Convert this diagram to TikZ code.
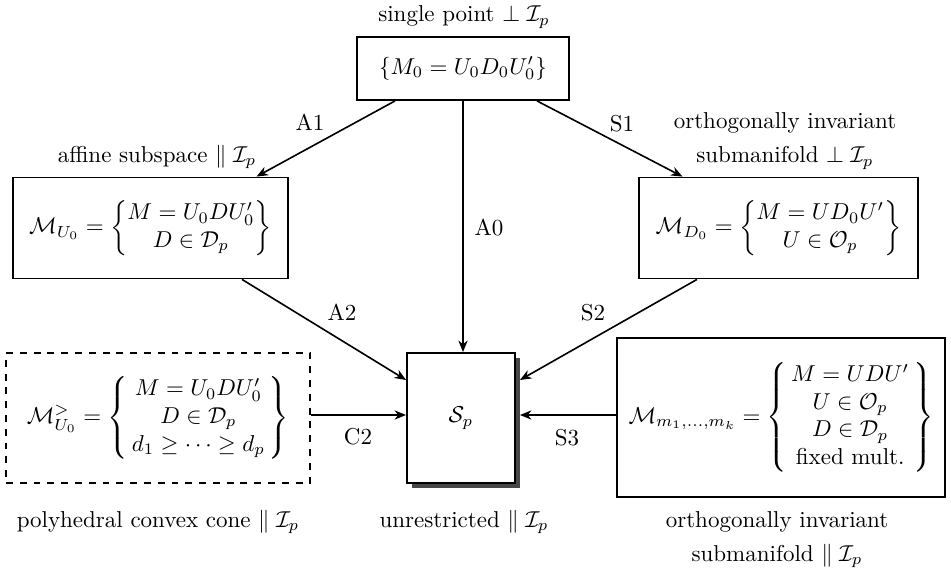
\documentclass[tikz,border=0pt]{standalone}
\usepackage{amsmath}
\usetikzlibrary{arrows.meta,shadows}
\def\pxu{0.435pt}
\begin{document}
\begin{tikzpicture}[x=0.435pt,y=-0.435pt,
  box/.style={draw,line width=0.8pt,fill=white,inner sep=0pt,align=center},
  arr/.style={line width=0.7pt,-{Stealth[length=5pt,width=4pt,inset=1.6pt]}},
  lab/.style={inner sep=1pt}]
\useasboundingbox (0,0) rectangle (951,569);
% nodes
\node[box,minimum width=212*\pxu,minimum height=63*\pxu] (top) at (463,68.5) {$\{M_0 = U_0 D_0 U_0'\}$};
\node[box,minimum width=275*\pxu,minimum height=101*\pxu] (left) at (150.5,228)
  {$\mathcal{M}_{U_0} = \left\{\begin{matrix} M = U_0 D U_0' \\ D \in \mathcal{D}_p \end{matrix}\right\}$};
\node[box,minimum width=279*\pxu,minimum height=101*\pxu] (right) at (778.5,228)
  {$\mathcal{M}_{D_0} = \left\{\begin{matrix} M = U D_0 U' \\ U \in \mathcal{O}_p \end{matrix}\right\}$};
\node[box,dashed,minimum width=304*\pxu,minimum height=130*\pxu] (cone) at (158,418)
  {$\mathcal{M}^{>}_{U_0} = \left\{\,\begin{matrix} M = U_0 D U_0' \\ D \in \mathcal{D}_p \\ d_1 \geq \cdots \geq d_p \end{matrix}\,\right\}$};
\node[box,minimum width=328*\pxu,minimum height=159*\pxu] (mult) at (781,417.5)
  {$\mathcal{M}_{m_1,\ldots,m_k} = \left\{\,\begin{matrix} M = U D U' \\ U \in \mathcal{O}_p \\ D \in \mathcal{D}_p \\ \text{fixed mult.} \end{matrix}\,\right\}$};
\node[box,minimum width=108*\pxu,minimum height=130*\pxu,
  drop shadow={shadow xshift=4.5*\pxu,shadow yshift=-4.5*\pxu,opacity=1,fill=black!72}] (sp) at (461,418) {$\mathcal{S}_p$};
% captions
\node (t1) at (464,17) {single point $\perp \mathcal{I}_p$};
\node (t2) at (157,157) {affine subspace $\parallel \mathcal{I}_p$};
\node (t3) at (785,123) {orthogonally invariant};
\node (t4) at (785,158) {submanifold $\perp \mathcal{I}_p$};
\node (t5) at (158,522) {polyhedral convex cone $\parallel \mathcal{I}_p$};
\node (t6) at (464,522) {unrestricted $\parallel \mathcal{I}_p$};
\node (t7) at (777,522) {orthogonally invariant};
\node (t8) at (777,556) {submanifold $\parallel \mathcal{I}_p$};
% arrows
\draw[arr] ([xshift=-68*\pxu]top.south) -- ([xshift=106*\pxu]left.north);
\draw[arr] ([xshift=74*\pxu]top.south) -- ([xshift=-96*\pxu]right.north);
\draw[arr] (top.south) -- (top.south |- sp.north);
\draw[arr] ([xshift=91.5*\pxu]left.south) -- ([yshift=38*\pxu]sp.west);
\draw[arr] ([xshift=-81.5*\pxu]right.south) -- ([yshift=38*\pxu,xshift=4*\pxu]sp.east);
\draw[arr] ([yshift=3*\pxu]cone.east) -- ([yshift=3*\pxu]sp.west);
\draw[arr] ([yshift=2.5*\pxu]mult.west) -- ([yshift=3*\pxu,xshift=4*\pxu]sp.east);
% edge labels
\node[lab] (a1) at (310,122) {A1};
\node[lab] (s1) at (622,124) {S1};
\node[lab] (a0) at (489,228) {A0};
\node[lab] (a2) at (342,312) {A2};
\node[lab] (s2) at (593,313) {S2};
\node[lab] (c2) at (358,437) {C2};
\node[lab] (s3) at (567,438) {S3};
\end{tikzpicture}
\end{document}
